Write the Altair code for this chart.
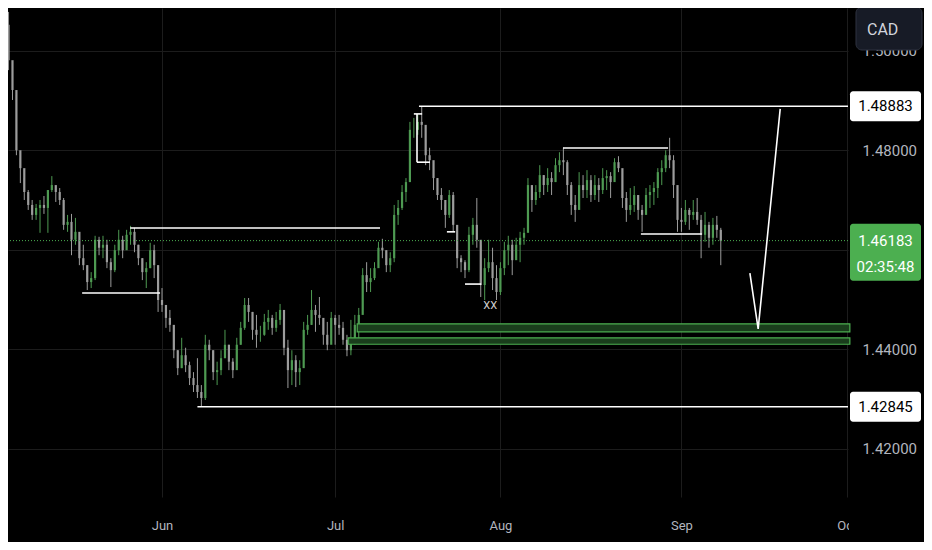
import altair as alt
import pandas as pd

# ---------------- data (half-day bars; bar 0 = 1 Jun) ----------------
bar_start = -40
first_open = 1.5070
highs = [
    1.5096, 1.5078, 1.4929, 1.4911, 1.4784, 1.4744, 1.4720, 1.4700, 1.4692, 1.4700,
    1.4708, 1.4720, 1.4748, 1.4728, 1.4724, 1.4704, 1.4670, 1.4672, 1.4664, 1.4620,
    1.4610, 1.4569, 1.4555, 1.4628, 1.4626, 1.4628, 1.4620, 1.4583, 1.4610, 1.4640,
    1.4628, 1.4640, 1.4648, 1.4644, 1.4610, 1.4583, 1.4575, 1.4614, 1.4610, 1.4569,
    1.4523, 1.4483, 1.4479, 1.4439, 1.4398, 1.4423, 1.4403, 1.4375, 1.4354, 1.4382,
    1.4328, 1.4429, 1.4419, 1.4398, 1.4375, 1.4398, 1.4439, 1.4409, 1.4382, 1.4423,
    1.4455, 1.4503, 1.4503, 1.4475, 1.4469, 1.4447, 1.4471, 1.4479, 1.4469, 1.4475,
    1.4491, 1.4469, 1.4419, 1.4398, 1.4388, 1.4378, 1.4455, 1.4469, 1.4519, 1.4489,
    1.4505, 1.4459, 1.4455, 1.4475, 1.4469, 1.4469, 1.4455, 1.4429, 1.4459, 1.4469,
    1.4483, 1.4563, 1.4575, 1.4563, 1.4575, 1.4616, 1.4622, 1.4599, 1.4595, 1.4690,
    1.4700, 1.4730, 1.4744, 1.4857, 1.4865, 1.4871, 1.48883, 1.4821, 1.4805, 1.4764,
    1.4744, 1.4724, 1.4690, 1.4720, 1.4716, 1.4636, 1.4589, 1.4579, 1.4646, 1.4664,
    1.4704, 1.4610, 1.4583, 1.4620, 1.4604, 1.4569, 1.4575, 1.4616, 1.4628, 1.4620,
    1.4624, 1.4636, 1.4644, 1.4744, 1.4724, 1.4730, 1.4770, 1.4750, 1.4764, 1.4756,
    1.4784, 1.4796, 1.4805, 1.4780, 1.4736, 1.4710, 1.4756, 1.4750, 1.4760, 1.4750,
    1.4750, 1.4744, 1.4764, 1.4760, 1.4756, 1.4784, 1.4788, 1.4760, 1.4716, 1.4724,
    1.4728, 1.4710, 1.4690, 1.4724, 1.4730, 1.4736, 1.4764, 1.4780, 1.4800, 1.4825,
    1.4790, 1.4716, 1.4684, 1.4700, 1.4684, 1.4700, 1.4704, 1.4670, 1.4676, 1.4656,
    1.4664, 1.4668, 1.4644,
]
lows = [
    1.5022, 1.4961, 1.4901, 1.4790, 1.4734, 1.4700, 1.4680, 1.4660, 1.4660, 1.4634,
    1.4672, 1.4634, 1.4716, 1.4696, 1.4690, 1.4640, 1.4636, 1.4589, 1.4610, 1.4569,
    1.4559, 1.4519, 1.4523, 1.4539, 1.4589, 1.4583, 1.4563, 1.4525, 1.4555, 1.4589,
    1.4583, 1.4604, 1.4610, 1.4595, 1.4569, 1.4539, 1.4523, 1.4563, 1.4543, 1.4475,
    1.4475, 1.4443, 1.4435, 1.4382, 1.4348, 1.4362, 1.4354, 1.4328, 1.4314, 1.4302,
    1.42845, 1.4298, 1.4378, 1.4338, 1.4328, 1.4348, 1.4382, 1.4358, 1.4342, 1.4368,
    1.4409, 1.4439, 1.4455, 1.4419, 1.4403, 1.4415, 1.4427, 1.4439, 1.4429, 1.4435,
    1.4449, 1.4388, 1.4322, 1.4328, 1.4324, 1.4328, 1.4378, 1.4429, 1.4449, 1.4435,
    1.4449, 1.4409, 1.4398, 1.4423, 1.4409, 1.4429, 1.4409, 1.4386, 1.4388, 1.4409,
    1.4415, 1.4479, 1.4515, 1.4515, 1.4539, 1.4569, 1.4583, 1.4555, 1.4555, 1.4575,
    1.4650, 1.4680, 1.4696, 1.4736, 1.4825, 1.4831, 1.4825, 1.4770, 1.4760, 1.4720,
    1.4700, 1.4680, 1.4644, 1.4664, 1.4636, 1.4563, 1.4555, 1.4543, 1.4555, 1.4610,
    1.4604, 1.4505, 1.4499, 1.4555, 1.4519, 1.4499, 1.4509, 1.4549, 1.4569, 1.4549,
    1.4583, 1.4575, 1.4610, 1.4636, 1.4676, 1.4690, 1.4704, 1.4710, 1.4716, 1.4710,
    1.4736, 1.4756, 1.4750, 1.4710, 1.4670, 1.4656, 1.4684, 1.4704, 1.4704, 1.4696,
    1.4700, 1.4696, 1.4712, 1.4720, 1.4704, 1.4750, 1.4756, 1.4684, 1.4656, 1.4670,
    1.4676, 1.4660, 1.4636, 1.4676, 1.4684, 1.4690, 1.4704, 1.4730, 1.4756, 1.4764,
    1.4704, 1.4636, 1.4636, 1.4650, 1.4640, 1.4660, 1.4650, 1.4583, 1.4616, 1.4604,
    1.4610, 1.4624, 1.4569,
]
closes = [
    1.5052, 1.4981, 1.4921, 1.4800, 1.4764, 1.4716, 1.4690, 1.4670, 1.4684, 1.4690,
    1.4684, 1.4720, 1.4730, 1.4716, 1.4700, 1.4650, 1.4656, 1.4620, 1.4636, 1.4583,
    1.4569, 1.4535, 1.4543, 1.4620, 1.4604, 1.4610, 1.4575, 1.4559, 1.4599, 1.4620,
    1.4599, 1.4630, 1.4636, 1.4610, 1.4583, 1.4555, 1.4563, 1.4599, 1.4569, 1.4499,
    1.4489, 1.4463, 1.4449, 1.4398, 1.4362, 1.4388, 1.4368, 1.4342, 1.4328, 1.4314,
    1.4302, 1.4409, 1.4398, 1.4354, 1.4358, 1.4382, 1.4409, 1.4375, 1.4358, 1.4409,
    1.4443, 1.4489, 1.4475, 1.4439, 1.4429, 1.4429, 1.4455, 1.4463, 1.4443, 1.4459,
    1.4479, 1.4403, 1.4358, 1.4378, 1.4354, 1.4362, 1.4439, 1.4449, 1.4479, 1.4469,
    1.4463, 1.4429, 1.4409, 1.4463, 1.4449, 1.4443, 1.4419, 1.4398, 1.4419, 1.4449,
    1.4469, 1.4549, 1.4535, 1.4543, 1.4563, 1.4604, 1.4599, 1.4569, 1.4583, 1.4670,
    1.4684, 1.4716, 1.4736, 1.4841, 1.4841, 1.4857, 1.4851, 1.4790, 1.4780, 1.4744,
    1.4710, 1.4700, 1.4670, 1.4710, 1.4650, 1.4583, 1.4575, 1.4559, 1.4630, 1.4650,
    1.4620, 1.4529, 1.4563, 1.4575, 1.4543, 1.4515, 1.4563, 1.4599, 1.4610, 1.4579,
    1.4610, 1.4624, 1.4634, 1.4730, 1.4700, 1.4716, 1.4750, 1.4730, 1.4744, 1.4736,
    1.4770, 1.4780, 1.4776, 1.4730, 1.4690, 1.4680, 1.4730, 1.4720, 1.4740, 1.4710,
    1.4730, 1.4720, 1.4744, 1.4748, 1.4736, 1.4776, 1.4764, 1.4704, 1.4680, 1.4690,
    1.4710, 1.4680, 1.4670, 1.4710, 1.4716, 1.4724, 1.4756, 1.4764, 1.4790, 1.4780,
    1.4730, 1.4660, 1.4656, 1.4680, 1.4670, 1.4676, 1.4660, 1.4630, 1.4650, 1.4624,
    1.4650, 1.4640, 1.46183,
]

month_bars = [0, 44, 86, 132, 174]
month_names = ["Jun", "Jul", "Aug", "Sep", "Oct"]
price_ticks = [1.42, 1.44, 1.46, 1.48, 1.50]
hidden_tick = 1.46  # covered by the live-price tag

# drawn levels / segments
seg_x1 = [65.3, 9.0, 101.9, 121.7, -8.1, -20.3, 64.0, 64.8, 64.8, 72.4, 77.0]
seg_x2 = [174.33, 174.33, 128.6, 137.2, 55.4, -0.5, 66.1, 64.8, 68.1, 74.5, 81.1]
seg_p1 = [1.48883, 1.42845, 1.48045, 1.46317, 1.46437, 1.45131, 1.4873, 1.4873, 1.4776, 1.4636, 1.4531]
seg_p2 = [1.48883, 1.42845, 1.48045, 1.46317, 1.46437, 1.45131, 1.4873, 1.4776, 1.4776, 1.4636, 1.4531]

band_x1 = [49.6, 47.3]
band_x2 = [174.8, 174.8]
band_top = [1.4451, 1.4423]
band_bot = [1.4435, 1.4410]

v_bar = [149.4, 151.5, 157.1]
v_price = [1.4553, 1.4441, 1.4883]

note_bar = [83.4]
note_price = [1.4487]
note_label = ["XX"]

tag_prices = [1.48883, 1.42845]
tag_labels = ["1.48883", "1.42845"]
last_price = 1.46183
last_label = "1.46183"
countdown = "02:35:48"
currency = "CAD"

# ---------------- frames ----------------
opens = [first_open] + closes[:-1]
candles = pd.DataFrame({
    "bar": list(range(bar_start, bar_start + len(closes))),
    "open": opens, "high": highs, "low": lows, "close": closes,
})
segs = pd.DataFrame({"x1": seg_x1, "x2": seg_x2, "p1": seg_p1, "p2": seg_p2})
bands = pd.DataFrame({"x1": band_x1, "x2": band_x2, "top": band_top, "bot": band_bot})
vline = pd.DataFrame({"bar": v_bar, "price": v_price})
notes = pd.DataFrame({"bar": note_bar, "price": note_price, "label": note_label})
tags = pd.DataFrame({"price": tag_prices, "label": tag_labels})
last = pd.DataFrame({"price": [last_price], "label": [last_label], "cd": [countdown]})
cur = pd.DataFrame({"label": [currency]})

GREEN = "#4caf50"
UP = "#4e9a52"
DOWN = "#9c9c9c"
GRID = "#1c1c1c"
LABEL = "#b2b5be"
FONT = "Roboto"

xs = alt.Scale(domain=[-39.14, 174.33], nice=False, zero=False)
ys = alt.Scale(domain=[1.41030, 1.50859], nice=False, zero=False)

x_label_expr = " : ".join(f"datum.value == {b} ? '{n}'" for b, n in zip(month_bars, month_names)) + " : ''"
y_label_expr = f"abs(datum.value - {hidden_tick}) < 1e-6 ? '' : format(datum.value, '.5f')"

x_axis = alt.Axis(values=month_bars, labelExpr=x_label_expr, grid=True, gridColor=GRID,
                  gridWidth=1, domain=False, ticks=False, labelColor=LABEL, labelFont=FONT,
                  labelFontSize=13, labelPadding=22, title=None, labelFlush=False)
y_axis = alt.Axis(orient="right", values=price_ticks, labelExpr=y_label_expr, grid=True,
                  gridColor=GRID, gridWidth=1, domain=False, ticks=False, labelColor=LABEL,
                  labelFont=FONT, labelFontSize=15, labelPadding=14, labelAlign="left", title=None)


def X(field):
    return alt.X(field, type="quantitative", scale=xs, axis=x_axis)


def Y(field):
    return alt.Y(field, type="quantitative", scale=ys, axis=y_axis)


color_cond = alt.condition("datum.close >= datum.open", alt.value(UP), alt.value(DOWN))

wicks = alt.Chart(candles).mark_rule(strokeWidth=1).encode(
    x=X("bar"), y=Y("low"), y2="high:Q", color=color_cond,
)
bodies = alt.Chart(candles).mark_rule(strokeWidth=2.2).encode(
    x=X("bar"), y=Y("open"), y2="close:Q", color=color_cond,
)
band_layer = alt.Chart(bands).mark_rect(fill="#1a3d1c", stroke=GREEN, strokeWidth=1.2).encode(
    x=X("x1"), x2="x2:Q", y=Y("top"), y2="bot:Q",
)
last_line = alt.Chart(last).mark_rule(color=GREEN, strokeDash=[1, 2], strokeWidth=1).encode(
    y=Y("price"),
)
seg_layer = alt.Chart(segs).mark_rule(color="white", strokeWidth=1.6).encode(
    x=X("x1"), x2="x2:Q", y=Y("p1"), y2="p2:Q",
)
v_layer = alt.Chart(vline).mark_line(color="white", strokeWidth=1.6).encode(
    x=X("bar"), y=Y("price"),
)
note_layer = alt.Chart(notes).mark_text(color="#cfcfcf", fontSize=11, font=FONT).encode(
    x=X("bar"), y=Y("price"), text="label:N",
)
tag_box = alt.Chart(tags).mark_rect(fill="white", cornerRadius=3, yOffset=-15, y2Offset=15).encode(
    x=alt.value(842), x2=alt.value(913), y=Y("price"), y2="price:Q",
)
tag_text = alt.Chart(tags).mark_text(color="#000000", fontSize=15, font=FONT, baseline="middle").encode(
    x=alt.value(877.5), y=Y("price"), text="label:N",
)
last_box = alt.Chart(last).mark_rect(fill="#4caf50", cornerRadius=3, yOffset=-17, y2Offset=40).encode(
    x=alt.value(842), x2=alt.value(913), y=Y("price"), y2="price:Q",
)
last_text = alt.Chart(last).mark_text(color="white", fontSize=15, font=FONT, baseline="middle").encode(
    x=alt.value(877.5), y=Y("price"), text="label:N",
)
cd_text = alt.Chart(last).mark_text(color="white", fontSize=15, font=FONT, baseline="middle", dy=26).encode(
    x=alt.value(877.5), y=Y("price"), text="cd:N",
)
cad_box = alt.Chart(cur).mark_rect(fill="#171b26", stroke="#2f3340", strokeWidth=1, cornerRadius=6).encode(
    x=alt.value(848), x2=alt.value(914), y=alt.value(-1), y2=alt.value(42),
)
cad_text = alt.Chart(cur).mark_text(color="#d1d4dc", fontSize=16, font=FONT, align="left", baseline="middle").encode(
    x=alt.value(859), y=alt.value(22), text="label:N",
)
cover = alt.Chart(cur).mark_rect(fill="#000000").encode(
    x=alt.value(841), x2=alt.value(916), y=alt.value(492), y2=alt.value(534),
)

chart = alt.layer(
    wicks, bodies, band_layer, last_line, seg_layer, v_layer, note_layer,
    tag_box, tag_text, last_box, last_text, cd_text, cad_box, cad_text, cover,
).properties(
    width=840, height=489, background="#000000",
    padding={"left": 0, "top": 0, "right": 76, "bottom": 45},
    autosize=alt.AutoSizeParams(type="none"),
).configure_view(stroke=None)

chart.save("out.html", embed_options={"renderer": "svg", "actions": False})
